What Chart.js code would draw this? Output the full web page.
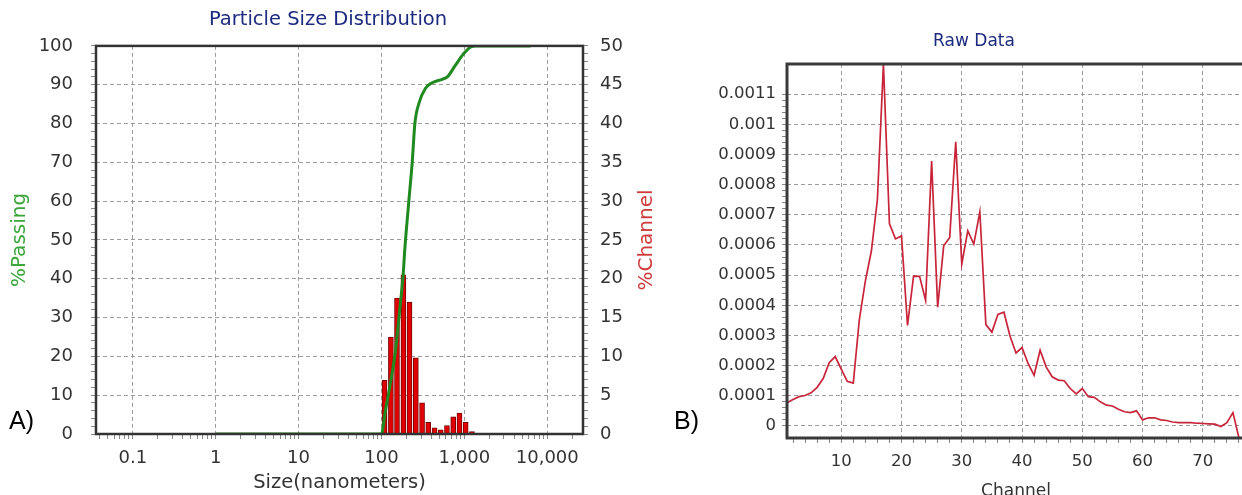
<!DOCTYPE html>
<html>
<head>
<meta charset="utf-8">
<script src="https://cdn.jsdelivr.net/npm/chart.js@4.4.1/dist/chart.umd.min.js"></script>
<style>
  html, body { margin: 0; padding: 0; background: #fff; overflow: hidden; width: 1242px; height: 495px; }
  #wrapA { position: absolute; left: 0; top: 0; width: 656px; height: 495px; }
  #wrapB { position: absolute; left: 690px; top: 0; width: 568px; height: 504px; }
  .tag { position: absolute; font-family: "Liberation Sans", Arial, sans-serif; font-size: 25px; line-height: 1; color: #000; }
  .ytitle { position: absolute; width: 200px; height: 24px; line-height: 24px; text-align: center;
            font-family: "DejaVu Sans", sans-serif; font-size: 20px; transform: rotate(-90deg); }
</style>
</head>
<body>
<div id="wrapA"><canvas id="psdChart"></canvas></div>
<div id="wrapB"><canvas id="rawChart"></canvas></div>
<div class="tag" style="left:9px; top:408px;">A)</div>
<div class="tag" style="left:674px; top:408px;">B)</div>
<div class="ytitle" style="left:545px; top:228px; color:#d03a3a;">%Channel</div>

<script>
// ---- A) Particle size distribution ----
// channel bins (nm) and %Channel per bin (right axis)
const binSizes   = [109, 130, 154, 184, 218, 260, 309, 367, 437, 519, 617, 734, 873, 1038, 1235];
const channelPct = [6.9, 12.5, 17.5, 20.5, 17, 9.8, 4, 1.5, 0.8, 0.55, 1.1, 2.2, 2.7, 1.5, 0.3];

// cumulative %Passing curve (left axis)
const curveSizes = [1, 100, 112, 128, 148, 166, 183, 191, 214, 235, 253, 283, 340, 410, 541, 623, 785, 989, 1191, 1370, 6300];
const passingPct = [0, 0, 6.2, 13, 21.6, 32, 41.2, 47.4, 60, 70, 80, 85.2, 89.1, 90.5, 91.4, 92, 95.1, 98.1, 99.7, 100, 100];

const sizeTicks      = [0.1, 1, 10, 100, 1000, 10000];
const sizeTickLabels = ['0.1', '1', '10', '100', '1,000', '10,000'];
const passingTicks   = [0, 10, 20, 30, 40, 50, 60, 70, 80, 90, 100];
const channelTicks   = [0, 5, 10, 15, 20, 25, 30, 35, 40, 45, 50];

// ---- B) Raw data ----
const channels = [1, 2, 3, 4, 5, 6, 7, 8, 9, 10, 11, 12, 13, 14, 15, 16, 17, 18, 19, 20,
  21, 22, 23, 24, 25, 26, 27, 28, 29, 30, 31, 32, 33, 34, 35, 36, 37, 38, 39, 40,
  41, 42, 43, 44, 45, 46, 47, 48, 49, 50, 51, 52, 53, 54, 55, 56, 57, 58, 59, 60,
  61, 62, 63, 64, 65, 66, 67, 68, 69, 70, 71, 72, 73, 74, 75, 76];
const rawSignal = [
  0.000077, 0.000088, 0.000097, 0.000101, 0.000110, 0.000128, 0.000157, 0.000210, 0.000230, 0.000188,
  0.000148, 0.000142, 0.000352, 0.000480, 0.000580, 0.000750, 0.001200, 0.000670, 0.000620, 0.000630,
  0.000333, 0.000497, 0.000496, 0.000416, 0.000878, 0.000394, 0.000597, 0.000625, 0.000942, 0.000537,
  0.000647, 0.000603, 0.000710, 0.000336, 0.000311, 0.000370, 0.000377, 0.000298, 0.000242, 0.000260,
  0.000207, 0.000168, 0.000251, 0.000196, 0.000163, 0.000152, 0.000150, 0.000124, 0.000106, 0.000124,
  0.000097, 0.000095, 0.000080, 0.000069, 0.000066, 0.000055, 0.000047, 0.000044, 0.000050, 0.000020,
  0.000027, 0.000027, 0.000020, 0.000018, 0.000013, 0.000011, 0.000011, 0.000011, 0.000009, 0.000008,
  0.000007, 0.000006, -0.000002, 0.000011, 0.000044, -0.000040];
const channelAxisTicks = [10, 20, 30, 40, 50, 60, 70];
const rawTicks = [0, 0.0001, 0.0002, 0.0003, 0.0004, 0.0005, 0.0006, 0.0007, 0.0008, 0.0009, 0.001, 0.0011];

const FONT = 'DejaVu Sans';
const GRID = '#9c9c9c';

// major ticks get a label and a grid line, minor ones only a small tick mark
function tickSet(majors, minors) {
  return majors.map(v => ({ value: v, major: true }))
    .concat(minors.map(v => ({ value: v, major: false })))
    .sort((a, b) => a.value - b.value);
}
function linearMinors(min, max, step, majors) {
  const out = [];
  const n = Math.round((max - min) / step);
  for (let i = 0; i <= n; i++) {
    const v = +(min + i * step).toFixed(8);
    if (!majors.some(m => Math.abs(m - v) < step / 10)) out.push(v);
  }
  return out;
}
function logMinors(min, max) {
  const out = [];
  for (let e = -2; e <= 4; e++) {
    for (let k = 2; k <= 9; k++) {
      const v = k * Math.pow(10, e);
      if (v > min && v < max) out.push(v);
    }
  }
  return out;
}
const gridColor = c => (c.tick && c.tick.major ? GRID : 'rgba(0,0,0,0)');
const majorLabel = fmt => (value, i, ticks) => (ticks[i].major ? fmt(value) : '');

// thick box around the plot area
const framePlugin = {
  id: 'frame',
  afterDraw(chart, args, opts) {
    const { ctx, chartArea: a } = chart;
    ctx.save();
    ctx.strokeStyle = opts.color;
    ctx.lineWidth = opts.width;
    ctx.strokeRect(a.left, a.top, a.right - a.left, a.bottom - a.top);
    ctx.restore();
  }
};

// A) Particle Size Distribution
new Chart(document.getElementById('psdChart'), {
  type: 'bar',
  data: {
    datasets: [
      {
        type: 'line',
        label: '%Passing',
        data: curveSizes.map((s, i) => ({ x: s, y: passingPct[i] })),
        yAxisID: 'y',
        borderColor: '#1f8a1f',
        borderWidth: 3,
        pointRadius: 0,
        cubicInterpolationMode: 'monotone'
      },
      {
        type: 'bar',
        label: '%Channel',
        data: binSizes.map((s, i) => ({ x: s, y: channelPct[i] })),
        yAxisID: 'y1',
        backgroundColor: '#e00000',
        borderColor: '#7a0000',
        borderWidth: 1,
        barThickness: 5
      }
    ]
  },
  options: {
    responsive: true,
    maintainAspectRatio: false,
    animation: false,
    layout: { padding: 0 },
    plugins: {
      legend: { display: false },
      tooltip: { enabled: false },
      title: {
        display: true,
        text: 'Particle Size Distribution',
        color: '#1c2a80',
        font: { family: FONT, size: 19.5, weight: 'normal' },
        padding: { top: 8, bottom: 14.5 }
      },
      frame: { color: '#333', width: 2.5 }
    },
    scales: {
      x: {
        type: 'logarithmic',
        min: 0.036,
        max: 27000,
        offset: false,
        afterBuildTicks: s => { s.ticks = tickSet(sizeTicks, logMinors(0.036, 27000)); },
        afterFit: s => { s.height = 61; },
        ticks: {
          autoSkip: false, maxRotation: 0, padding: 9, color: '#333',
          font: { family: FONT, size: 18 },
          callback: majorLabel(v => sizeTickLabels[sizeTicks.indexOf(v)])
        },
        grid: { offset: false, color: gridColor, tickColor: '#888', tickLength: 5, lineWidth: 1 },
        border: { display: false, dash: [4, 3] },
        title: {
          display: true, text: 'Size(nanometers)', color: '#333',
          font: { family: FONT, size: 19.5 }, padding: { top: 0, bottom: 0 }
        }
      },
      y: {
        position: 'left',
        min: 0,
        max: 100,
        afterBuildTicks: s => { s.ticks = tickSet(passingTicks, linearMinors(0, 100, 2, passingTicks)); },
        afterFit: s => { s.width = 96; },
        ticks: {
          autoSkip: false, padding: 18, color: '#333',
          font: { family: FONT, size: 18 },
          callback: majorLabel(v => String(v))
        },
        grid: { color: gridColor, tickColor: '#888', tickLength: 5 },
        border: { display: false, dash: [4, 3] },
        title: {
          display: true, text: '%Passing', color: '#3aa63a',
          font: { family: FONT, size: 20 }, padding: { top: 8, bottom: 0 }
        }
      },
      y1: {
        position: 'right',
        min: 0,
        max: 50,
        afterBuildTicks: s => { s.ticks = tickSet(channelTicks, linearMinors(0, 50, 1, channelTicks)); },
        afterFit: s => { s.width = 73; },
        ticks: {
          autoSkip: false, padding: 12, color: '#333',
          font: { family: FONT, size: 18 },
          callback: majorLabel(v => String(v))
        },
        grid: { drawOnChartArea: false, tickColor: '#888', tickLength: 5 },
        border: { display: false }
      }
    }
  },
  plugins: [framePlugin]
});

// B) Raw Data
new Chart(document.getElementById('rawChart'), {
  type: 'line',
  data: {
    datasets: [{
      label: 'Raw Data',
      data: channels.map((c, i) => ({ x: c, y: rawSignal[i] })),
      borderColor: '#c8253a',
      borderWidth: 1.7,
      pointRadius: 0,
      tension: 0
    }]
  },
  options: {
    responsive: true,
    maintainAspectRatio: false,
    animation: false,
    layout: { padding: 0 },
    plugins: {
      legend: { display: false },
      tooltip: { enabled: false },
      title: {
        display: true,
        text: 'Raw Data',
        color: '#1c2a80',
        font: { family: FONT, size: 17, weight: 'normal' },
        padding: { top: 31, bottom: 12.6 }
      },
      frame: { color: '#3a3a3a', width: 3 }
    },
    scales: {
      x: {
        type: 'linear',
        min: 1,
        max: 77,
        afterBuildTicks: s => { s.ticks = tickSet(channelAxisTicks, linearMinors(2, 76, 2, channelAxisTicks)); },
        afterFit: s => { s.height = 66; },
        ticks: {
          autoSkip: false, maxRotation: 0, padding: 9, color: '#333',
          font: { family: FONT, size: 16.5 },
          callback: majorLabel(v => String(v))
        },
        grid: { color: gridColor, tickColor: '#888', tickLength: 5 },
        border: { display: false, dash: [4, 3] },
        title: {
          display: true, text: 'Channel', color: '#333',
          font: { family: FONT, size: 17 }, padding: { top: 0, bottom: 2 }
        }
      },
      y: {
        min: -0.00004,
        max: 0.0012,
        afterBuildTicks: s => { s.ticks = tickSet(rawTicks, linearMinors(0, 0.0011, 0.00002, rawTicks)); },
        afterFit: s => { s.width = 97; },
        ticks: {
          autoSkip: false, padding: 6, color: '#333',
          font: { family: FONT, size: 16.5 },
          callback: majorLabel(v => String(+v.toFixed(4)))
        },
        grid: { color: gridColor, tickColor: '#888', tickLength: 5 },
        border: { display: false, dash: [4, 3] }
      },
      // empty strip on the right, keeps the title where the original has it
      pad: {
        position: 'right',
        grid: { display: false },
        ticks: { display: false },
        border: { display: false },
        afterFit: s => { s.width = 13; }
      }
    }
  },
  plugins: [framePlugin]
});
</script>
</body>
</html>
